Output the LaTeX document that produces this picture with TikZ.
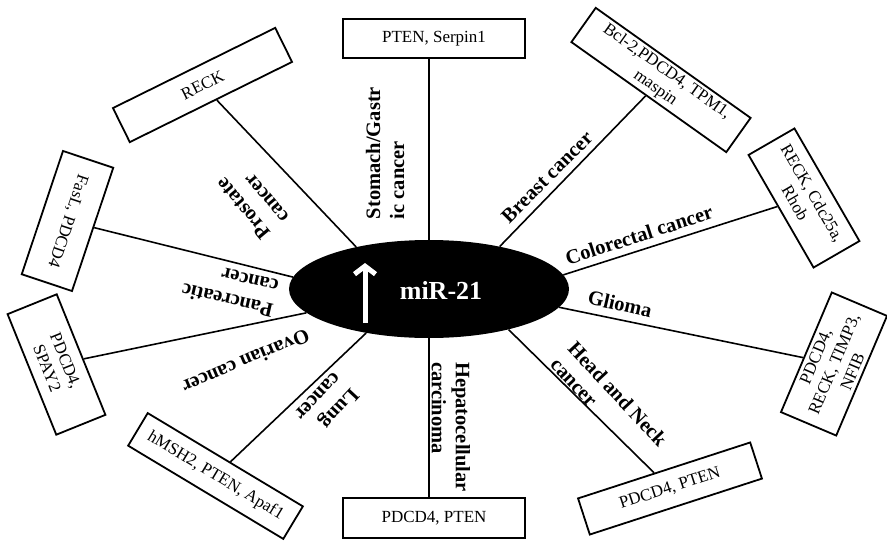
\documentclass[tikz,border=0pt]{standalone}
\usepackage{fontspec}
\setmainfont{Liberation Serif}
\usetikzlibrary{arrows.meta,shapes.geometric,calc}

\begin{document}
\begin{tikzpicture}[
  x=1pt, y=-1pt,
  hub/.style={ellipse, fill=black, minimum width=280pt, minimum height=98pt, inner sep=0pt},
  gene/.style={draw, line width=1.8pt, fill=white, align=center, inner sep=2pt,
    minimum width=181pt, minimum height=38pt, font=\fontsize{17}{20}\selectfont},
  geneshort/.style={gene, minimum width=130pt, minimum height=53pt},
  disease/.style={align=left, inner sep=0pt, font=\fontsize{20.5}{24}\bfseries\selectfont},
  link/.style={line width=1.6pt},
  uparrow/.style={-{Straight Barb[length=8pt,width=21pt]}, line width=5pt, white}
]
  \useasboundingbox (0,0) rectangle (887,543);

  \node[hub] (hub) at (429,289) {};
  \node[font=\fontsize{26}{30}\bfseries\selectfont, text=white] (mir) at (441,290) {miR-21};
  \coordinate (upTail) at (365,323);
  \coordinate (upHead) at (365,263);
  \draw[uparrow] (upTail) -- (upHead);

  \node[gene, minimum width=182pt, minimum height=39pt] (gStomach) at (434,38.5) {PTEN, Serpin1};
  \node[gene, minimum width=190pt, minimum height=42pt, rotate=-35.4] (gBreast) at (661,80) {Bcl-2,PDCD4, TPM1,\\maspin};
  \node[geneshort, rotate=-60] (gColorectal) at (804,198) {RECK, Cdc25a,\\Rhob};
  \node[geneshort, minimum height=60pt, rotate=67] (gGlioma) at (834,364) {PDCD4,\\RECK, TIMP3,\\NFIB};
  \node[gene, rotate=18] (gHeadNeck) at (670,488.5) {PDCD4, PTEN};
  \node[gene, minimum width=182pt, minimum height=40pt] (gHepato) at (434,518) {PDCD4, PTEN};
  \node[gene, rotate=-31] (gLung) at (215.5,476) {hMSH2, PTEN, Apaf1};
  \node[geneshort, rotate=-68] (gOvarian) at (56.5,364.5) {PDCD4,\\SPAY2};
  \node[geneshort, rotate=-108.5] (gPancreatic) at (67.5,221) {FasL, PDCD4};
  \node[gene, rotate=26.3] (gProstate) at (202.5,85) {RECK};

  \draw[link] (hub.north) -- (hub.north |- gStomach.south);
  \draw[link] (hub.31) -- (gBreast);
  \draw[link] (hub.6) -- (gColorectal);
  \draw[link] (hub.-8) -- (gGlioma);
  \draw[link] (hub.-27) -- (gHeadNeck);
  \draw[link] (hub.south) -- (hub.south |- gHepato.north);
  \draw[link] (hub.215) -- (gLung);
  \draw[link] (hub.191) -- (gOvarian);
  \draw[link] (hub.175) -- (gPancreatic);
  \draw[link] (hub.150) -- (gProstate);

  \node[disease, rotate=90] (lStomach) at (385,153) {Stomach/Gastr\\ic cancer};
  \node[disease, rotate=45] (lBreast) at (547,177) {Breast cancer};
  \node[disease, rotate=18] (lColorectal) at (639,235) {Colorectal cancer};
  \node[disease, rotate=-13] (lGlioma) at (620,304) {Glioma};
  \node[disease, rotate=-47] (lHeadNeck) at (609,402) {Head and Neck\\cancer};
  \node[disease, rotate=-90] (lHepato) at (451,427) {Hepatocellular\\carcinoma};
  \node[disease, rotate=-133] (lLung) at (327,405) {Lung\\cancer};
  \node[disease, rotate=-157] (lOvarian) at (246,362) {Ovarian cancer};
  \node[disease, rotate=167] (lPancreatic) at (230,289) {Pancreatic\\cancer};
  \node[disease, rotate=130] (lProstate) at (252,201) {Prostate\\cancer};
\end{tikzpicture}
\end{document}
